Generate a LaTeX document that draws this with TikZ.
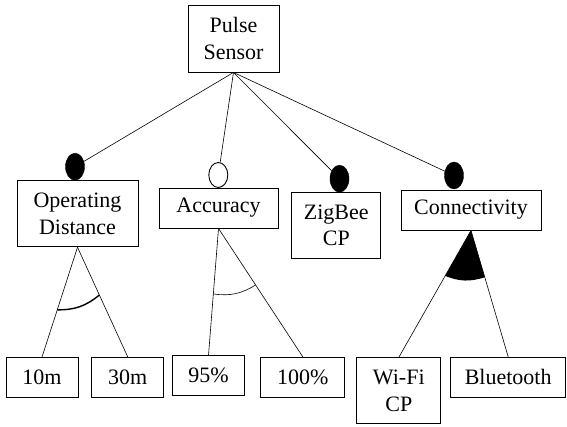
\documentclass[tikz,border=0pt]{standalone}
\usepackage{fontspec}
\setmainfont{LiberationSerif}[Extension=.ttf,UprightFont=*-Regular,BoldFont=*-Bold]
\usetikzlibrary{shapes.geometric,calc}

\tikzset{
  feat/.style={draw, line width=0.9pt, inner sep=0pt, align=center,
    font=\fontsize{22}{26.5}\selectfont},
  mand/.style={draw, ellipse, fill=black, minimum width=19pt,
    minimum height=27pt, inner sep=0pt},
  opt/.style={mand, fill=white, line width=0.9pt},
  edge/.style={line width=0.6pt}
}

\begin{document}
\begin{tikzpicture}[x=1pt,y=-1pt]
    \useasboundingbox (0,0) rectangle (567,427);

    % root
    \node[feat,minimum width=91pt,minimum height=67pt] (pulse) at (233.5,38.5) {Pulse\\Sensor};

    % features
    \node[feat,minimum width=121pt,minimum height=66pt] (od) at (77.5,213.8) {Operating\\Distance};
    \node[feat,minimum width=119pt,minimum height=40pt] (acc) at (218.5,208) {Accuracy};
    \node[feat,minimum width=89pt,minimum height=66pt] (zig) at (336.3,225.3) {ZigBee\\CP};
    \node[feat,minimum width=140pt,minimum height=40pt] (conn) at (471,210) {Connectivity};

    % mandatory / optional marks
    \node[mand] (eod) at (75,166.7) {};
    \node[opt,minimum height=25pt] (eacc) at (218.3,175) {};
    \node[mand] (ezig) at (339.5,178.7) {};
    \node[mand] (econn) at (454,175.5) {};

    % leaves
    \node[feat,minimum width=72pt,minimum height=40pt] (m10) at (42,377.5) {10m};
    \node[feat,minimum width=72pt,minimum height=40pt] (m30) at (127.8,377.5) {30m};
    \node[feat,minimum width=72pt,minimum height=40pt] (p95) at (208.5,375.8) {95\%};
    \node[feat,minimum width=84pt,minimum height=40pt] (p100) at (302.8,377.3) {100\%};
    \node[feat,minimum width=84pt,minimum height=66pt] (wifi) at (398.8,390.8) {Wi-Fi\\CP};
    \node[feat,minimum width=115pt,minimum height=40pt] (bt) at (508.2,377.3) {Bluetooth};

    \draw[edge] (pulse.south) -- (eod);
    \draw[edge] (pulse.south) -- (eacc);
    \draw[edge] (pulse.south) -- (ezig);
    \draw[edge] (pulse.south) -- (econn);

    \draw[edge] (od.south) -- (m10.north);
    \draw[edge] (od.south) -- (m30.north);
    \draw[edge] (acc.south) -- (p95.north);
    \draw[edge] (acc.south) -- (p100.north);
    \draw[edge] (conn.south) -- (wifi.north);
    \draw[edge] (conn.south) -- (bt.north);

    % group arcs
    \draw[line width=1.4pt] ($(od.south)!0.57!(m10.north)$) to[bend right=20] ($(od.south)!0.435!(m30.north)$);
    \draw[edge] ($(acc.south)!0.516!(p95.north)$) to[bend right=20] ($(acc.south)!0.44!(p100.north)$);
    \fill (conn.south) -- ($(conn.south)!0.358!(wifi.north)$) to[bend right=20] ($(conn.south)!0.37!(bt.north)$) -- cycle;
\end{tikzpicture}
\end{document}
